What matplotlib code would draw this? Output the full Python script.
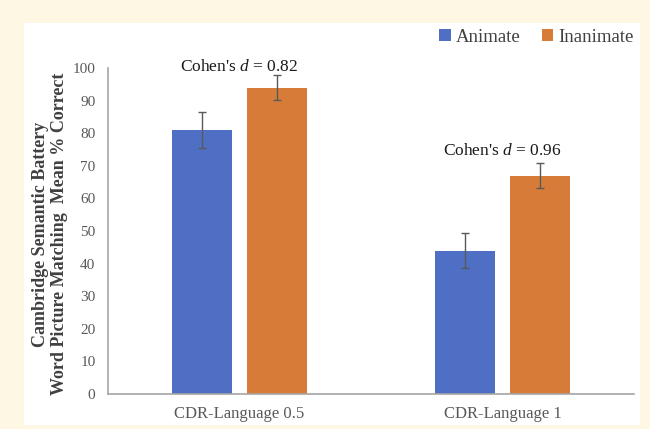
import matplotlib.pyplot as plt
import numpy as np

# Data
groups = ['CDR-Language 0.5', 'CDR-Language 1']
animate = [81, 44]
inanimate = [94, 67]
animate_err = [5.5, 5.4]
inanimate_err = [3.9, 3.9]
effect_labels = ['0.82', '0.96']
effect_y = [98, 72]

plt.rcParams['font.family'] = ['Liberation Serif', 'DejaVu Serif']
plt.rcParams['mathtext.fontset'] = 'custom'
plt.rcParams['mathtext.it'] = 'Liberation Serif:italic'
plt.rcParams['mathtext.rm'] = 'Liberation Serif'

fig = plt.figure(figsize=(6.5, 4.29), dpi=100)
fig.patch.set_facecolor('#fdf7e3')

# white chart panel on the cream page
panel = fig.add_axes([24 / 650, 4 / 429, 616 / 650, 402 / 429])
panel.set_facecolor('white')
panel.set_xticks([])
panel.set_yticks([])
for s in panel.spines.values():
    s.set_visible(False)

ax = fig.add_axes([108 / 650, 1 - 394 / 429, 526 / 650, 326 / 429])
ax.set_facecolor('none')

x = np.arange(len(groups))
w = 0.225
off = 0.1425
err_style = dict(ecolor='#595959', elinewidth=1, capsize=3, capthick=1)
ax.bar(x - off, animate, w, yerr=animate_err, color='#4f6fc4', label='Animate', error_kw=err_style)
ax.bar(x + off, inanimate, w, yerr=inanimate_err, color='#d67b38', label='Inanimate', error_kw=err_style)

for i, lab in enumerate(effect_labels):
    ax.text(x[i], effect_y[i], "Cohen's $d$ = " + lab, ha='center', va='bottom',
            fontsize=12.5, color='#1a1a1a')

ax.set_xlim(-0.5, 1.5)
ax.set_ylim(0, 100)
ax.set_yticks(range(0, 101, 10))
ax.set_xticks(x)
ax.set_xticklabels(groups)
ax.tick_params(axis='both', length=0, colors='#595959')
ax.tick_params(axis='y', labelsize=11, pad=9)
ax.tick_params(axis='x', labelsize=12, pad=9)
for s in ['top', 'right']:
    ax.spines[s].set_visible(False)
for s in ['left', 'bottom']:
    ax.spines[s].set_color('#a6a6a6')
    ax.spines[s].set_linewidth(1.2)

ax.set_ylabel('Cambridge Semantic Battery\nWord Picture Matching  Mean % Correct',
              fontsize=13, fontweight='bold', color='#404040', linespacing=1.15)
ax.yaxis.set_label_coords(-40 / 526, 0.49)

fig.legend(loc='center right', bbox_to_anchor=(0.975, 1 - 37 / 429), ncol=2, frameon=False,
           fontsize=13.5, handlelength=0.6, handleheight=0.6, handletextpad=0.3,
           columnspacing=1.1, borderpad=0, borderaxespad=0, labelcolor='#404040')

fig.savefig('out.png', dpi=100, facecolor=fig.get_facecolor())
